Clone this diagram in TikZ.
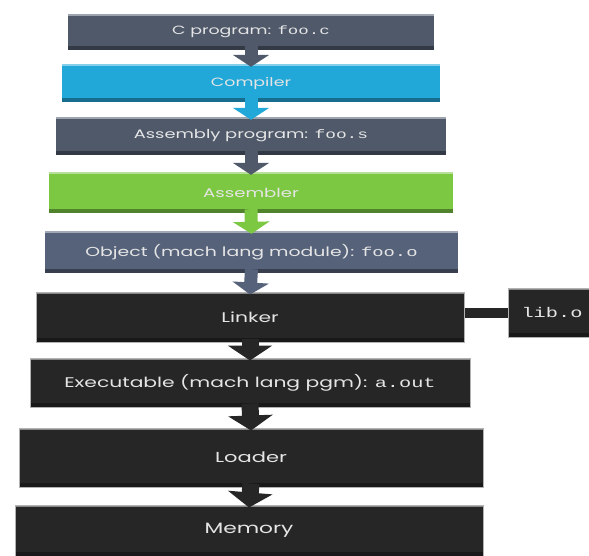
\documentclass[tikz,border=0pt]{standalone}
\usepackage{fontspec}
\setmainfont[FakeStretch=1.45]{Poppins}
\setmonofont[FakeStretch=1.45]{Liberation Mono}
\usetikzlibrary{arrows.meta,positioning,calc}
\definecolor{Slate}{HTML}{4F596A}
\definecolor{SlateLight}{HTML}{56627A}
\definecolor{CompBlue}{HTML}{22A8D8}
\definecolor{AsmGreen}{HTML}{7CC843}
\definecolor{Coal}{HTML}{262626}

\begin{document}
\begin{tikzpicture}[x=1pt,y=-1pt,>=Stealth,
  bar/.style={fill=#1,text=white!90!black,inner sep=0pt,
    path picture={
      \fill[#1!65!black] (path picture bounding box.south west) rectangle ([yshift=4pt]path picture bounding box.south east);
      \fill[#1!55!white] (path picture bounding box.north west) rectangle ([yshift=-2pt]path picture bounding box.north east);}},
  coalbar/.style={bar=Coal,draw=gray!60,line width=1pt},
  flow/.style={line width=13pt,draw=#1,-{Triangle[width=36pt,length=12pt]}},
  bigflow/.style={line width=17pt,draw=#1,-{Triangle[width=44pt,length=15pt]}}]
\useasboundingbox (0,0) rectangle (589,556);
\node[bar=Slate,minimum width=366pt,minimum height=36pt,font=\fontsize{12}{14}\selectfont] (src) at (251,32) {C program: \texttt{foo.c}};
\node[bar=CompBlue,minimum width=378pt,minimum height=38pt,font=\fontsize{12}{14}\selectfont] (comp) at (251,83) {Compiler};
\node[bar=Slate,minimum width=390pt,minimum height=38pt,font=\fontsize{12.3}{14}\selectfont] (asm) at (251,136) {Assembly program: \texttt{foo.s}};
\node[bar=AsmGreen,minimum width=404pt,minimum height=41pt,font=\fontsize{12.5}{14}\selectfont] (asmr) at (251,192.5) {Assembler};
\node[bar=SlateLight,minimum width=413pt,minimum height=42pt,font=\fontsize{13}{15}\selectfont] (obj) at (251.5,252) {Object (mach lang module): \texttt{foo.o}};
\node[coalbar,minimum width=428pt,minimum height=50pt,font=\fontsize{14}{16}\selectfont] (link) at (250,317) {Linker};
\node[coalbar,minimum width=88pt,minimum height=49pt,font=\fontsize{14}{16}\selectfont] (lib) at (552,312.5) {\texttt{lib.o}};
\node[coalbar,minimum width=440pt,minimum height=49pt,font=\fontsize{14}{16}\selectfont] (exe) at (250,382.5) {Executable (mach lang pgm): \texttt{a.out}};
\node[coalbar,minimum width=464pt,minimum height=59pt,font=\fontsize{14.5}{17}\selectfont] (load) at (251,457.5) {Loader};
\node[coalbar,minimum width=468pt,minimum height=51pt,font=\fontsize{15}{17}\selectfont] (mem) at (249,530.5) {Memory};
% down arrows
\draw[flow=Slate] ([yshift=4pt]src.south) -- ([yshift=-3pt]comp.north);
\draw[flow=CompBlue] ([yshift=4pt]comp.south) -- ([yshift=-3pt]asm.north);
\draw[flow=Slate] ([yshift=4pt]asm.south) -- ([yshift=-3pt]asmr.north);
\draw[flow=AsmGreen] ([yshift=4pt]asmr.south) -- ([yshift=-3pt]obj.north);
\draw[flow=SlateLight] ([yshift=4pt]obj.south) -- ([yshift=-3pt]link.north);
\draw[bigflow=Coal] ([yshift=4pt]link.south) -- ([yshift=-3pt]exe.north);
\draw[bigflow=Coal] ([yshift=4pt]exe.south) -- ([yshift=-3pt]load.north);
\draw[bigflow=Coal] ([yshift=4pt]load.south) -- ([yshift=-3pt]mem.north);
\draw[line width=10pt,Coal] (lib.west -| link.east) -- (lib.west);
\end{tikzpicture}
\end{document}
